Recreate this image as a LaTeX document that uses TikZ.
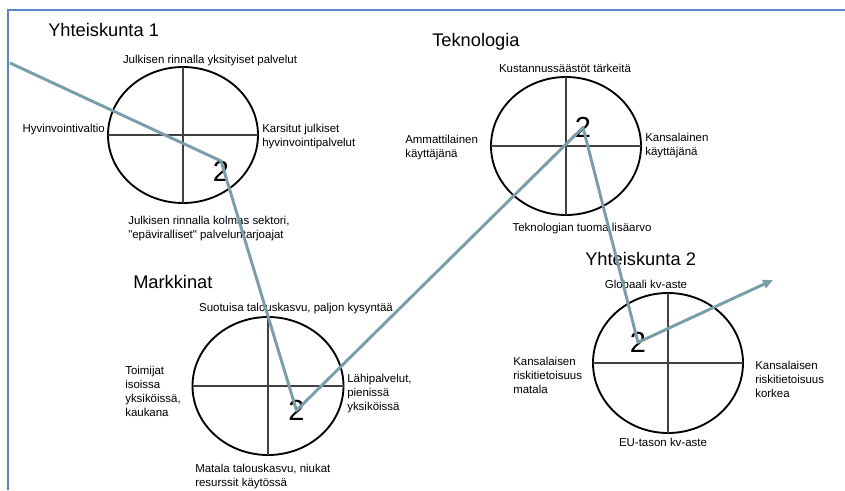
\documentclass[tikz,border=0pt]{standalone}
\usepackage{fontspec}
\setmainfont{Liberation Sans}[Ligatures=TeXOff]
\usetikzlibrary{arrows.meta}
\definecolor{trailgray}{RGB}{122,158,168}
\definecolor{frameblue}{RGB}{91,136,196}
\tikzset{
    oval/.style={draw=black, line width=1.4pt},
    quadrant/.style={draw=black!75, line width=0.8pt},
    heading/.style={inner sep=0pt, font=\fontsize{13.7}{16}\selectfont},
    lbl/.style={inner sep=0pt, font=\fontsize{8.6}{10.5}\selectfont},
    digit/.style={inner sep=0pt, font=\fontsize{21.75}{26}\selectfont},
    trail/.style={draw=trailgray, line width=2.2pt, line join=round}
}
\begin{document}
\begin{tikzpicture}[x=0.75pt, y=-0.75pt]
    \useasboundingbox (0,0) rectangle (845,490);
    \draw [frameblue, line width=1.5pt] (8,490) -- (8,10) -- (845,10);

    \draw [oval] (183,135) ellipse [x radius=75, y radius=68];
    \draw [quadrant] (108,135) -- (258,135);
    \draw [quadrant] (183,67) -- (183,203);
    \node [heading, anchor=north west] (y1title) at (48,23) {Yhteiskunta 1};
    \node [lbl, anchor=north] (y1top) at (210,55) {Julkisen rinnalla yksityiset palvelut};
    \node [lbl, anchor=north east] (y1left) at (105,124) {Hyvinvointivaltio};
    \node [lbl, anchor=north west, align=left] (y1right) at (262,124) {Karsitut julkiset\\hyvinvointipalvelut};
    \node [lbl, anchor=north west, align=left] (y1bottom) at (128,216) {Julkisen rinnalla kolmas sektori,\\"epäviralliset" palveluntarjoajat};
    \node [digit, anchor=north] (y1two) at (221,161) {2};

    \draw [oval] (566,146) ellipse [x radius=75, y radius=69];
    \draw [quadrant] (491,146) -- (641,146);
    \draw [quadrant] (566,77) -- (566,215);
    \node [heading, anchor=north west] (tectitle) at (432,33) {Teknologia};
    \node [lbl, anchor=north] (tectop) at (565,64) {Kustannussäästöt tärkeitä};
    \node [lbl, anchor=north west, align=left] (tecleft) at (405,135) {Ammattilainen\\käyttäjänä};
    \node [lbl, anchor=north west, align=left] (tecright) at (645,133) {Kansalainen\\käyttäjänä};
    \node [lbl, anchor=north] (tecbottom) at (582,223) {Teknologian tuoma lisäarvo};
    \node [digit, anchor=north] (tectwo) at (583,117) {2};

    \draw [oval] (268,386) ellipse [x radius=75.5, y radius=69];
    \draw [quadrant] (192.5,386) -- (343.5,386);
    \draw [quadrant] (268,317) -- (268,455);
    \node [heading, anchor=north west] (mkttitle) at (133,275) {Markkinat};
    \node [lbl, anchor=north] (mkttop) at (296,303) {Suotuisa talouskasvu, paljon kysyntää};
    \node [lbl, anchor=north west, align=left] (mktleft) at (125,366) {Toimijat\\isoissa\\yksiköissä,\\kaukana};
    \node [lbl, anchor=north west, align=left] (mktright) at (347,374) {Lähipalvelut,\\pienissä\\yksiköissä};
    \node [lbl, anchor=north west, align=left] (mktbottom) at (195,464) {Matala talouskasvu, niukat\\resurssit käytössä};
    \node [digit, anchor=north] (mkttwo) at (296.5,400) {2};

    \draw [oval] (668,363) ellipse [x radius=75, y radius=70];
    \draw [quadrant] (593,363) -- (743,363);
    \draw [quadrant] (668,293) -- (668,433);
    \node [heading, anchor=north west] (y2title) at (585,252) {Yhteiskunta 2};
    \node [lbl, anchor=north] (y2top) at (646,280) {Globaali kv-aste};
    \node [lbl, anchor=north west, align=left] (y2left) at (513,357) {Kansalaisen\\riskitietoisuus\\matala};
    \node [lbl, anchor=north west, align=left] (y2right) at (755,361) {Kansalaisen\\riskitietoisuus\\korkea};
    \node [lbl, anchor=north] (y2bottom) at (663,438) {EU-tason kv-aste};
    \node [digit, anchor=north] (y2two) at (638,332) {2};

    \coordinate (trailstart) at (10,63);
    \coordinate (trailend) at (773,280);
    \draw [trail, -{Triangle[length=7.5pt, width=6.5pt]}] (trailstart) -- (y1two.north) -- (mkttwo.center) -- (tectwo.center) -- (y2two.center) -- (trailend);
\end{tikzpicture}
\end{document}
